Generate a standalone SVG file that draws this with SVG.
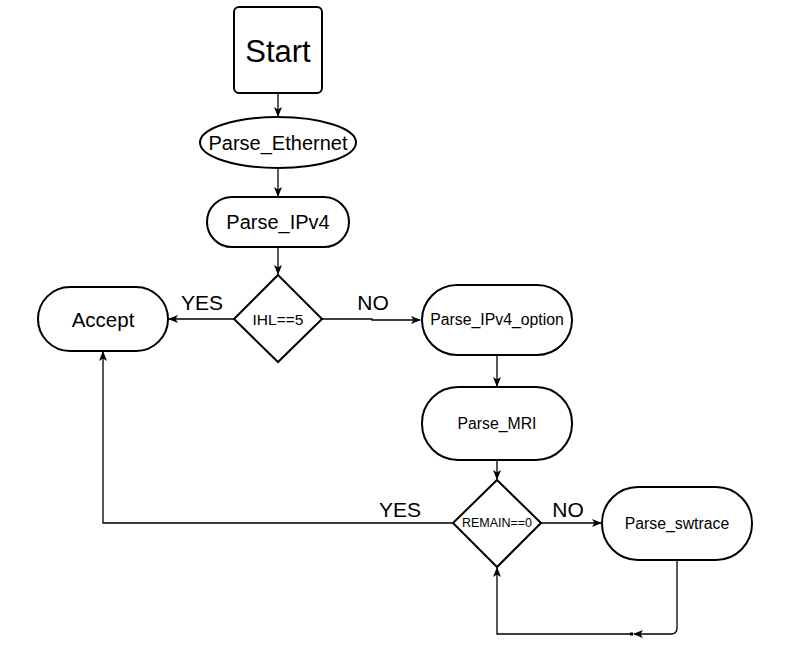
<svg xmlns="http://www.w3.org/2000/svg" width="803" height="665" viewBox="0 0 803 665">
<style>
.shape{fill:#fff;stroke:#000;stroke-width:2}
.edge{fill:none;stroke:#000;stroke-width:1.3}
text{font-family:"Liberation Sans",Arial,sans-serif;fill:#000;text-anchor:middle;dominant-baseline:central}
.lbl{font-size:21px}
.mid{font-size:15.8px}
</style>
<defs>
<marker id="arr" viewBox="0 0 10 8" refX="9" refY="4" markerWidth="10" markerHeight="8" markerUnits="userSpaceOnUse" orient="auto">
<path d="M0,0 L10,4 L0,8 L2.5,4 Z" fill="#000"/>
</marker>
</defs>
<rect width="803" height="665" fill="#fff"/>
<g id="connectors">
<path class="edge" d="M278,93 L278,116" marker-end="url(#arr)"/>
<path class="edge" d="M278,168 L278,196" marker-end="url(#arr)"/>
<path class="edge" d="M278,247 L278,274" marker-end="url(#arr)"/>
<path class="edge" d="M234,319 L169,319" marker-end="url(#arr)"/>
<path class="edge" d="M322,319 L372,319 L372,320 L420,320" marker-end="url(#arr)"/>
<path class="edge" d="M497,355 L497,386" marker-end="url(#arr)"/>
<path class="edge" d="M497,460 L497,479" marker-end="url(#arr)"/>
<path class="edge" d="M541,523 L601,523" marker-end="url(#arr)"/>
<path class="edge" d="M453,523 L103,523 L103,352" marker-end="url(#arr)"/>
<path class="edge" d="M677,560 L677,628 Q677,634 671,634 L634,634" marker-end="url(#arr)"/>
<path class="edge" d="M633,634 L497,634 L497,568" marker-end="url(#arr)"/>
<rect x="630" y="632.5" width="3" height="3" fill="#000"/>
<text class="lbl" x="202" y="302">YES</text>
<text class="lbl" x="373" y="302">NO</text>
<text class="lbl" x="400" y="509">YES</text>
<text class="lbl" x="568" y="509">NO</text>
</g>
<g id="start">
<rect class="shape" x="234" y="7" width="88" height="86" rx="5"/>
<text x="278" y="51" font-size="31">Start</text>
</g>
<g id="parse_ethernet">
<ellipse class="shape" cx="278" cy="142.5" rx="78" ry="25.5"/>
<text x="278" y="143" font-size="20">Parse_Ethernet</text>
</g>
<g id="parse_ipv4">
<rect class="shape" x="207" y="197" width="142" height="50" rx="25"/>
<text x="278" y="222" font-size="20">Parse_IPv4</text>
</g>
<g id="ihl">
<path class="shape" d="M278,275 L322,319 L278,362 L234,319 Z"/>
<text x="278" y="319" font-size="15.5">IHL==5</text>
</g>
<g id="accept">
<rect class="shape" x="38" y="287" width="130" height="64" rx="32"/>
<text x="103" y="319" font-size="20.5">Accept</text>
</g>
<g id="parse_ipv4_option">
<rect class="shape" x="422" y="285" width="150" height="70" rx="35"/>
<text class="mid" x="497" y="319">Parse_IPv4_option</text>
</g>
<g id="parse_mri">
<rect class="shape" x="422" y="387" width="150" height="73" rx="36"/>
<text class="mid" x="497" y="423">Parse_MRI</text>
</g>
<g id="remain">
<path class="shape" d="M497,480 L541,523 L497,567 L453,523 Z"/>
<text x="497" y="523" font-size="12.5">REMAIN==0</text>
</g>
<g id="parse_swtrace">
<rect class="shape" x="602" y="487" width="150" height="73" rx="36"/>
<text class="mid" x="677" y="523">Parse_swtrace</text>
</g>
</svg>
